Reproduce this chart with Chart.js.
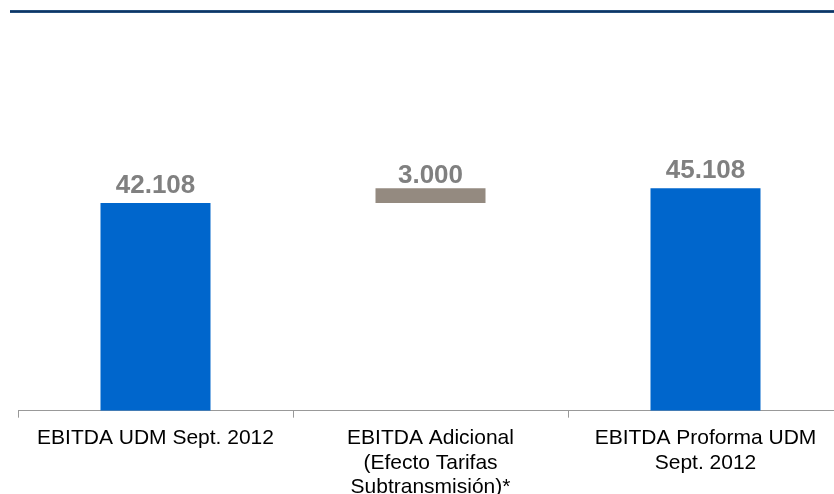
<!DOCTYPE html>
<html>
<head>
<meta charset="utf-8">
<script src="https://cdn.jsdelivr.net/npm/chart.js@4/dist/chart.umd.min.js"></script>
<style>
  html, body { margin: 0; padding: 0; background: #fff; overflow: hidden; }
  body { width: 834px; height: 494px; position: relative; }
  .topLine {
    position: absolute; left: 10px; top: 10px; width: 830px; height: 3px;
    background: linear-gradient(#2d5c8c, #0f3562, #2d5c8c);
  }
  .chartBox { position: absolute; left: 0; top: 0; width: 860px; height: 508px; }
</style>
</head>
<body>
<div class="topLine"></div>
<div class="chartBox"><canvas id="ebitdaChart"></canvas></div>
<script>
const categories = [
    ['EBITDA UDM Sept. 2012'],
    ['EBITDA Adicional', '(Efecto Tarifas', 'Subtransmisión)*'],
    ['EBITDA Proforma UDM', 'Sept. 2012']
];
const baseValues = [0, 42108, 0];
const barValues = [42108, 3000, 45108];
const barColors = ['#0066CC', '#948A80', '#0066CC'];
const labelGap = [10, 5, 10];

function formatNumber(n){
    return String(n).replace(/\B(?=(\d{3})+(?!\d))/g, '.');
}

// draw the value on top of every bar
const valueLabels = {
    id: 'valueLabels',
    afterDatasetsDraw(chart) {
        const ctx = chart.ctx;
        const meta = chart.getDatasetMeta(0);
        ctx.save();
        ctx.font = 'bold 26px "Liberation Sans", Arial, sans-serif';
        ctx.fillStyle = '#808080';
        ctx.textAlign = 'center';
        ctx.textBaseline = 'alphabetic';
        meta.data.forEach((bar, i) => {
            ctx.fillText(formatNumber(barValues[i]), bar.x, bar.y - labelGap[i]);
        });
        ctx.restore();
    }
};

const floatingData = barValues.map((v, i) => [baseValues[i], baseValues[i] + v]);

new Chart(document.getElementById('ebitdaChart'), {
    type: 'bar',
    data: {
        labels: categories,
        datasets: [{
            data: floatingData,
            backgroundColor: barColors,
            borderWidth: 0,
            barPercentage: 0.4,
            categoryPercentage: 1.0
        }]
    },
    options: {
        responsive: true,
        maintainAspectRatio: false,
        animation: false,
        layout: { padding: { left: 18, right: 17, top: 16.3, bottom: 0 } },
        plugins: {
            legend: { display: false },
            tooltip: { enabled: false }
        },
        scales: {
            x: {
                grid: { drawOnChartArea: false, drawTicks: true, tickLength: 7, color: '#999999', offset: true },
                border: { color: '#999999', width: 1 },
                ticks: {
                    color: '#000000',
                    padding: 8,
                    maxRotation: 0,
                    autoSkip: false,
                    font: { family: '"Liberation Sans", Arial, sans-serif', size: 21, lineHeight: 1.18 }
                }
            },
            y: { display: false, min: 0, max: 80000 }
        }
    },
    plugins: [valueLabels]
});
</script>
</body>
</html>
